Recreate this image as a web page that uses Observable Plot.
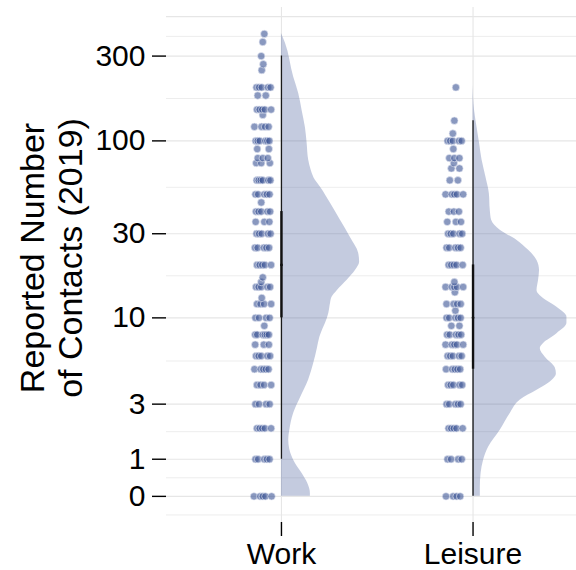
<!DOCTYPE html>
<html><head><meta charset="utf-8">
<script src="https://cdn.jsdelivr.net/npm/d3@7"></script>
<script src="https://cdn.jsdelivr.net/npm/@observablehq/plot@0.6"></script>
<style>body{margin:0;background:#fff;} #chart{width:576px;height:570px;}</style>
</head><body><div id="chart"></div>
<script>
// ---- data ----
const categories = ["Work", "Leisure"];
const yTickValues = [0, 1, 3, 10, 30, 100, 300];
const yGridValues = [0, 1, 3, 10, 30, 100, 300, 500];
const yDomainValues = [-0.69, 563];

// reported contacts: [value, number of respondents]
const workRows = [
  [0,5],[1,5],[2,5],[3,4],[4,4],[5,5],[6,5],[7,3],[8,6],[9,1],[10,4],[12,4],[13,1],
  [15,5],[16,1],[17,1],[20,5],[25,5],[30,5],[35,3],[40,5],[45,1],[50,5],[60,6],
  [75,3],[80,3],[90,2],[100,6],[120,4],[140,1],[150,5],[180,2],[200,5],[250,1],
  [270,1],[300,1],[360,1],[400,1]
];
const leisureRows = [
  [0,4],[1,4],[2,5],[3,5],[4,5],[5,5],[6,5],[7,5],[8,5],[9,2],[10,5],[11,1],[12,4],
  [14,1],[15,5],[16,1],[20,5],[25,5],[30,5],[35,3],[40,3],[50,5],[60,2],[70,2],
  [75,1],[80,3],[90,1],[100,5],[110,1],[130,1],[200,1]
];

// half-violin density profile: [value, half width in category units]
const workDensity = [
  [402,0],[354,0.021],[228,0.064],[185,0.090],[148,0.108],[119,0.125],[97,0.134],
  [78,0.142],[68,0.156],[60,0.177],[55,0.203],[44.5,0.256],[35.7,0.308],[28.6,0.360],
  [23.3,0.403],[20.7,0.408],[18.6,0.386],[16.4,0.343],[14.3,0.291],[13.1,0.264],
  [12.1,0.256],[10.6,0.247],[9.3,0.230],[8.5,0.214],[7.7,0.200],[6.7,0.188],[5.4,0.168],
  [4.3,0.142],[3.3,0.099],[2.6,0.064],[1.9,0.043],[1.6,0.038],[1.3,0.043],[0.88,0.073],
  [0.6,0.108],[0.34,0.137],[0.08,0.151],[0,0.151]
];
const leisureDensity = [
  [205,0],[148,0.008],[119,0.021],[97,0.034],[78,0.047],[62,0.068],[50.6,0.085],
  [40.6,0.090],[35.7,0.097],[31.4,0.142],[27.5,0.230],[24.2,0.290],[21.2,0.334],
  [18.6,0.347],[16.4,0.342],[14.3,0.334],[13.1,0.360],[11.5,0.438],[10.1,0.490],
  [9.3,0.490],[8.1,0.438],[7.1,0.368],[6.65,0.351],[5.9,0.377],[5.1,0.429],[4.7,0.435],
  [4.1,0.394],[3.7,0.334],[3.2,0.247],[2.6,0.195],[1.93,0.142],[1.36,0.081],
  [0.97,0.055],[0.6,0.042],[0.23,0.038],[0,0.038]
];

// quantile intervals (Work, Leisure)
const interval95Lo = [1, 0];
const interval95Hi = [300, 130];
const interval66Lo = [10, 5];
const interval66Hi = [40, 20];
const medians = [20, 10];

// ---- build ----
const T = v => Math.asinh(v / 2);  // pseudo-log transform
const centers = categories.map((c, i) => i + 1);

const majorGrid = yGridValues.map(T);
const minorGrid = [majorGrid[0] - (majorGrid[1] - majorGrid[0]) / 2];
for (let i = 0; i < majorGrid.length - 1; i++) minorGrid.push((majorGrid[i] + majorGrid[i + 1]) / 2);

function buildPoints(rows, center, cat) {
  const out = [];
  rows.forEach(([v, n], r) => {
    for (let k = 0; k < n; k++) {
      const off = -0.145 + 0.095 * (k + 0.5) / n + 0.016 * ((((k * 5 + r * 3) % 7) / 6) - 0.5);
      out.push({cat, x: center + off, y: T(v)});
    }
  });
  return out;
}
const pointData = buildPoints(workRows, centers[0], categories[0])
  .concat(buildPoints(leisureRows, centers[1], categories[1]));

const violinData = [];
[workDensity, leisureDensity].forEach((dens, i) => {
  dens.forEach(([v, w]) => violinData.push({cat: categories[i], y: T(v), x1: centers[i], x2: centers[i] + w}));
});

const intervalData = categories.map((c, i) => ({
  x: centers[i],
  lo95: T(interval95Lo[i]), hi95: T(interval95Hi[i]),
  lo66: T(interval66Lo[i]), hi66: T(interval66Hi[i]),
  med: T(medians[i])
}));

const font = "'Liberation Sans', Arial, sans-serif";
const chart = Plot.plot({
  width: 576, height: 570,
  marginLeft: 166, marginRight: 0, marginTop: 7, marginBottom: 48,
  style: {fontFamily: font, background: "white", color: "black"},
  x: {domain: [0.4, 2.54], axis: null},
  y: {domain: yDomainValues.map(T), axis: null},
  marks: [
    Plot.ruleY(minorGrid, {stroke: "#ebebeb", strokeWidth: 0.9}),
    Plot.ruleY(majorGrid, {stroke: "#e6e6e6", strokeWidth: 1.1}),
    Plot.ruleX(centers, {stroke: "#e6e6e6", strokeWidth: 1.1}),
    Plot.areaX(violinData, {y: "y", x1: "x1", x2: "x2", z: "cat", fill: "#3b5394", fillOpacity: 0.3, curve: "monotone-y"}),
    Plot.dot(pointData, {x: "x", y: "y", r: 3.7, fill: "#3b5394", fillOpacity: 0.6, stroke: "#e4e8f2", strokeWidth: 0.8, strokeOpacity: 0.8}),
    Plot.ruleX(intervalData, {x: "x", y1: "lo95", y2: "hi95", stroke: "#1a1a1a", strokeWidth: 1.3}),
    Plot.ruleX(intervalData, {x: "x", y1: "lo66", y2: "hi66", stroke: "#111", strokeWidth: 2.4}),
    Plot.dot(intervalData, {x: "x", y: "med", r: 1.4, fill: "#111"}),
    Plot.axisY(yTickValues.map(T), {tickSize: 14, tickPadding: 7, fontSize: 30, strokeWidth: 1.4,
      tickFormat: d => String(Math.round(2 * Math.sinh(d))), label: null}),
    Plot.axisX(centers, {tickSize: 14, tickPadding: 6, fontSize: 30, strokeWidth: 1.4,
      tickFormat: d => categories[d - 1], label: null})
  ]
});

const svg = d3.select(chart);
const titleLines = ["Reported Number", "of Contacts (2019)"];
titleLines.forEach((t, i) => {
  svg.append("text")
    .attr("transform", `translate(${44 + 38 * i},258) rotate(-90)`)
    .attr("text-anchor", "middle")
    .attr("font-family", font)
    .attr("font-size", 34)
    .attr("fill", "black")
    .text(t);
});
document.getElementById("chart").appendChild(chart);
</script>
</body></html>
